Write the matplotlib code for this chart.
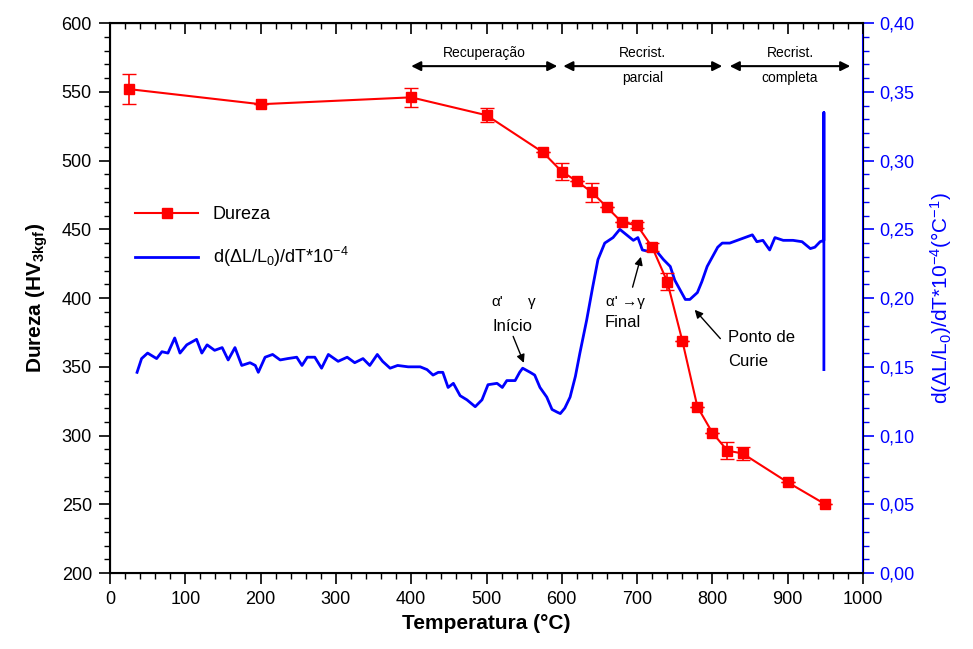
import numpy as np
import matplotlib
matplotlib.use("Agg")
import matplotlib.pyplot as plt
from matplotlib.ticker import MultipleLocator, FuncFormatter
from matplotlib.lines import Line2D

plt.rcParams['font.family'] = ['Liberation Sans', 'DejaVu Sans']
plt.rcParams['mathtext.default'] = 'regular'

# hardness (Dureza) data
temp_hv = [25, 200, 400, 500, 575, 600, 620, 640, 660, 680, 700, 720,
           740, 760, 780, 800, 820, 840, 900, 950]
hv = [552, 541, 546, 533, 506, 492, 485, 477, 466, 455, 453, 437,
      412, 369, 321, 302, 289, 287, 266, 250]
hv_err = [11, 0, 7, 5, 0, 6, 0, 7, 0, 0, 2, 3,
          6, 0, 0, 0, 6, 5, 0, 0]

# dilatometry derivative curve
temp_dl = [36, 42, 50, 62, 69, 77, 86, 93, 102, 115, 122, 129, 139, 149, 157,
           166, 175, 186, 193, 197, 206, 216, 226, 236, 248, 255, 262, 272,
           281, 290, 303, 315, 325, 336, 345, 355, 362, 372, 382, 396, 402,
           412, 421, 429, 436, 442, 449, 456, 465, 474, 485, 494, 502, 514,
           521, 527, 538, 544, 548, 558, 564, 571, 580, 587, 594, 598, 604,
           611, 618, 624, 633, 641, 648, 657, 668, 677, 686, 695, 701, 707,
           715, 726, 735, 744, 750, 757, 764, 770, 780, 786, 793, 800, 807,
           813, 823, 833, 843, 853, 859, 867, 876, 883, 894, 907, 919, 930,
           936, 943, 948, 948, 948]
dl = [0.146, 0.156, 0.160, 0.156, 0.161, 0.160, 0.171, 0.160, 0.166, 0.170,
      0.160, 0.166, 0.162, 0.164, 0.155, 0.164, 0.151, 0.153, 0.151, 0.146,
      0.157, 0.159, 0.155, 0.156, 0.157, 0.151, 0.157, 0.157, 0.149, 0.159,
      0.154, 0.157, 0.153, 0.156, 0.151, 0.159, 0.154, 0.149, 0.151, 0.150,
      0.150, 0.150, 0.148, 0.144, 0.146, 0.146, 0.135, 0.138, 0.129, 0.126,
      0.121, 0.126, 0.137, 0.138, 0.135, 0.140, 0.140, 0.146, 0.149, 0.146,
      0.144, 0.135, 0.128, 0.119, 0.117, 0.116, 0.120, 0.128, 0.143, 0.160,
      0.184, 0.208, 0.228, 0.240, 0.244, 0.250, 0.246, 0.242, 0.244, 0.235,
      0.234, 0.234, 0.228, 0.223, 0.213, 0.206, 0.199, 0.199, 0.204, 0.212,
      0.223, 0.230, 0.237, 0.240, 0.240, 0.242, 0.244, 0.246, 0.241, 0.242,
      0.235, 0.244, 0.242, 0.242, 0.241, 0.236, 0.237, 0.241, 0.242, 0.335,
      0.148]

# stage arrows on top: (start, end, upper text, lower text)
stages = [(400, 594, "Recuperação", ""),
          (602, 813, "Recrist.", "parcial"),
          (823, 983, "Recrist.", "completa")]

fig = plt.figure(figsize=(9.73, 6.49), dpi=100)
ax = fig.add_axes([0.113, 0.117, 0.774, 0.8474])
ax2 = ax.twinx()

ax2.plot(temp_dl, dl, color='blue', lw=2)
ax.errorbar(temp_hv, hv, yerr=hv_err, color='red', lw=1.5, marker='s',
            markersize=7, capsize=5, elinewidth=1.2)

ax.set_zorder(ax2.get_zorder() + 1)
ax.patch.set_visible(False)

ax.set_xlim(0, 1000)
ax.set_ylim(200, 600)
ax2.set_ylim(0, 0.40)

ax.xaxis.set_major_locator(MultipleLocator(100))
ax.xaxis.set_minor_locator(MultipleLocator(20))
ax.yaxis.set_major_locator(MultipleLocator(50))
ax.yaxis.set_minor_locator(MultipleLocator(10))
ax2.yaxis.set_major_locator(MultipleLocator(0.05))
ax2.yaxis.set_minor_locator(MultipleLocator(0.01))
ax2.yaxis.set_major_formatter(FuncFormatter(lambda v, p: ("%.2f" % v).replace('.', ',')))

ax.tick_params(which='major', length=8, width=1.2, labelsize=13, direction='out', pad=5)
ax.tick_params(which='minor', length=4, width=1, direction='out')
ax2.tick_params(which='major', length=8, width=1.2, labelsize=13, colors='blue')
ax2.tick_params(which='minor', length=4, width=1, colors='blue')

top = ax.secondary_xaxis('top')
top.xaxis.set_major_locator(MultipleLocator(100))
top.xaxis.set_minor_locator(MultipleLocator(20))
top.tick_params(which='major', direction='in', length=8, width=1.2, labeltop=False)
top.tick_params(which='minor', direction='in', length=4, width=1)

for s in ['left', 'bottom', 'top']:
    ax.spines[s].set_linewidth(1.5)
ax2.spines['right'].set_color('blue')
ax2.spines['right'].set_linewidth(1.5)

ax.set_xlabel('Temperatura (°C)', fontsize=15, fontweight='bold', labelpad=4)
ax.set_ylabel('Dureza (HV$_{3kgf}$)', fontsize=15, fontweight='bold', labelpad=8)
ax2.set_ylabel(r'd($\Delta$L/L$_0$)/dT*10$^{-4}$(°C$^{-1}$)', fontsize=15,
               color='blue', labelpad=10)

# legend
handles = [Line2D([], [], color='red', lw=1.5, marker='s', markersize=7),
           Line2D([], [], color='blue', lw=2)]
labels = ['Dureza', r'd($\Delta$L/L$_0$)/dT*10$^{-4}$']
ax.legend(handles, labels, loc='center left', bbox_to_anchor=(0.012, 0.61),
          frameon=False, fontsize=13, handlelength=3.5, labelspacing=1.2)

# stage arrows
for x0, x1, t1, t2 in stages:
    ax.annotate('', xy=(x0, 568.7), xytext=(x1, 568.7),
                arrowprops=dict(arrowstyle='<|-|>', color='black', lw=1.5,
                                mutation_scale=14, shrinkA=0, shrinkB=0))
    xm = (x0 + x1) / 2
    ax.text(xm, 573, t1, ha='center', va='bottom', fontsize=10)
    if t2:
        ax.text(xm, 565, t2, ha='center', va='top', fontsize=10)

# annotations on the dilatometry curve
ax2.text(514, 0.197, "α'", ha='center', va='center', fontsize=11)
ax2.text(560, 0.197, "γ", ha='center', va='center', fontsize=11)
ax2.text(535, 0.179, "Início", ha='center', va='center', fontsize=12)
ax2.annotate('', xy=(551, 0.151), xytext=(534, 0.174),
             arrowprops=dict(arrowstyle='-|>', color='black', lw=1, mutation_scale=12))

ax2.text(684, 0.197, "α' →γ", ha='center', va='center', fontsize=11)
ax2.text(681, 0.182, "Final", ha='center', va='center', fontsize=12)
ax2.annotate('', xy=(706, 0.232), xytext=(693, 0.206),
             arrowprops=dict(arrowstyle='-|>', color='black', lw=1, mutation_scale=12))

ax2.text(821, 0.171, "Ponto de", ha='left', va='center', fontsize=12)
ax2.text(821, 0.154, "Curie", ha='left', va='center', fontsize=12)
ax2.annotate('', xy=(774, 0.193), xytext=(813, 0.169),
             arrowprops=dict(arrowstyle='-|>', color='black', lw=1, mutation_scale=12))

fig.savefig('out.png', dpi=100)
